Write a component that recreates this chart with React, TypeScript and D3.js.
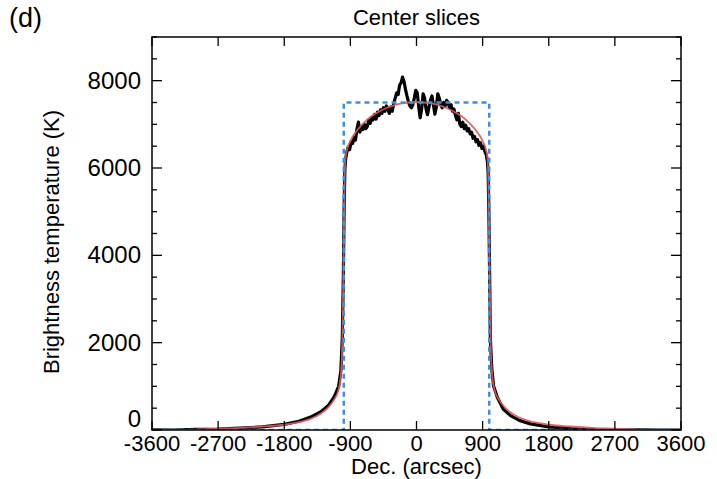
import React from "react";
import * as d3 from "d3";

// observed slice (black), sampled in arcsec
const obsX = [
  -3600, -3300, -3000, -2700, -2400, -2100, -1800, -1600, -1450, -1300, -1200, -1120, -1060, -1030, -1010, -995, -985, -975, -965,
  -950, -930, -910, -890, -870, -850, -830, -810, -790, -770, -750, -730, -710, -690, -670, -650, -630, -610, -590, -570, -550,
  -530, -510, -490, -470, -450, -430, -410, -390, -370, -350, -330, -310, -290, -270, -250, -230, -210, -190, -170, -150, -130,
  -110, -90, -70, -50, -30, -10, 10, 30, 50, 70, 90, 110, 130, 150, 170, 190, 210, 230, 250, 270, 290, 310, 330, 350, 370, 390,
  410, 430, 450, 470, 490, 510, 530, 550, 570, 590, 610, 630, 650, 670, 690, 710, 730, 750, 770, 790, 810, 830, 850, 870, 890,
  910, 930, 950, 965, 975, 985, 995, 1005, 1025, 1050, 1100, 1180, 1280, 1400, 1550, 1800, 2100, 2400, 2700, 3000, 3300, 3600,
];
const obsT = [
  5, 0, 15, 20, 45, 70, 130, 200, 290, 420, 560, 760, 1000, 1350, 2100, 3600, 5100, 5950, 6200,
  6350, 6480, 6420, 6600, 6560, 6700, 6640, 6900, 7050, 6820, 6950, 6880, 7000, 6900, 6950, 7100, 7020, 7160, 7100, 7230, 7120,
  7280, 7200, 7330, 7250, 7380, 7300, 7420, 7350, 7250, 7400, 7300, 7480, 7600, 7720, 7680, 7900, 7950, 8080, 7980, 7800, 7650,
  7520, 7420, 7380, 7450, 7600, 7780, 7720, 7400, 7150, 7350, 7700, 7600, 7350, 7220, 7400, 7550, 7650, 7450, 7230, 7400, 7700,
  7600, 7450, 7380, 7500, 7420, 7550, 7500, 7380, 7450, 7300, 7350, 7200, 7100, 7250, 7000, 6950, 7050, 6900, 6980, 6850, 6900,
  6780, 6820, 6680, 6720, 6600, 6650, 6520, 6580, 6450, 6500, 6380, 6300, 6150, 5900, 5000, 3600, 2100, 1400, 1000, 750, 480,
  330, 220, 140, 70, 30, 10, 0, 5, 0, 0,
];

// model slice (red)
const modelX = [
  -3600, -3000, -2700, -2400, -2100, -1800, -1600, -1450, -1300, -1200, -1120, -1060, -1030, -1010, -995, -985, -975, -965,
  -940, -900, -800, -700, -600, -500, -400, -300, -200, -100, 0, 100, 200, 300, 400, 500, 600, 700, 800, 900, 940, 965, 975,
  985, 995, 1010, 1030, 1060, 1120, 1200, 1300, 1450, 1600, 1800, 2100, 2400, 2700, 3000, 3600,
];
const modelT = [
  0, 10, 30, 50, 80, 120, 180, 250, 380, 520, 700, 930, 1250, 2000, 3500, 5000, 5900, 6250,
  6450, 6620, 6880, 7060, 7200, 7300, 7380, 7440, 7480, 7500, 7510, 7500, 7480, 7440, 7380, 7300, 7200, 7060, 6880, 6620, 6450,
  6250, 5900, 5000, 3500, 2000, 1250, 930, 700, 520, 380, 250, 180, 120, 80, 50, 30, 10, 0,
];

// uniform disk (blue dashed)
const diskX = [-3600, -990, -990, 990, 990, 3600];
const diskT = [0, 0, 7500, 7500, 0, 0];

const xTicks = [-3600, -2700, -1800, -900, 0, 900, 1800, 2700, 3600];
const yTicks = [0, 2000, 4000, 6000, 8000];
const yMinor = d3.range(0, 9001, 500);

const W = 717;
const H = 479;
const left = 152;
const right = 681;
const top = 37;
const bottom = 430;
const font = "'Liberation Sans', Arial, Helvetica, sans-serif";

export default function App() {
  const x = d3.scaleLinear().domain([-3600, 3600]).range([left, right]);
  const y = d3.scaleLinear().domain([0, 9000]).range([bottom, top]);

  const toPath = (xs: number[], ys: number[], curve: d3.CurveFactory) =>
    d3
      .line<number>()
      .x((_, i) => x(xs[i]))
      .y((_, i) => y(ys[i]))
      .curve(curve)(xs) || undefined;

  return (
    <svg
      width={W}
      height={H}
      style={{ position: "absolute", left: 0, top: 0, background: "#fff" }}
      fontFamily={font}
    >
      <rect x={0} y={0} width={W} height={H} fill="#fff" />
      <defs>
        <clipPath id="plot-clip">
          <rect x={left} y={top} width={right - left} height={bottom - top} />
        </clipPath>
      </defs>

      <g clipPath="url(#plot-clip)">
        <path d={toPath(obsX, obsT, d3.curveLinear)} fill="none" stroke="#000" strokeWidth={3.2} strokeLinejoin="round" />
        <path d={toPath(modelX, modelT, d3.curveMonotoneX)} fill="none" stroke="#e0585c" strokeWidth={1.8} strokeOpacity={0.9} />
        <path d={toPath(diskX, diskT, d3.curveLinear)} fill="none" stroke="#3d8fe0" strokeWidth={2.5} strokeDasharray="5,4" />
      </g>

      {/* frame */}
      <rect x={left} y={top} width={right - left} height={bottom - top} fill="none" stroke="#000" strokeWidth={1.5} />

      {/* x ticks, bottom and top */}
      {xTicks.map((t) => (
        <g key={`xt-${t}`}>
          <line x1={x(t)} x2={x(t)} y1={bottom} y2={bottom - 9} stroke="#000" strokeWidth={1.3} />
          <line x1={x(t)} x2={x(t)} y1={top} y2={top + 9} stroke="#000" strokeWidth={1.3} />
          <text x={x(t)} y={bottom + 21} textAnchor="middle" fontSize={22}>
            {t}
          </text>
        </g>
      ))}

      {/* y ticks, left and right */}
      {yMinor.map((t) => {
        const major = t % 2000 === 0;
        const len = major ? 10 : 5;
        return (
          <g key={`yt-${t}`}>
            <line x1={left} x2={left + len} y1={y(t)} y2={y(t)} stroke="#000" strokeWidth={1.3} />
            <line x1={right} x2={right - len} y1={y(t)} y2={y(t)} stroke="#000" strokeWidth={1.3} />
          </g>
        );
      })}
      {yTicks.map((t) => (
        <text key={`yl-${t}`} x={left - 11} y={y(t) + (t === 0 ? -3 : 8)} textAnchor="end" fontSize={24}>
          {t}
        </text>
      ))}

      <text x={(left + right) / 2} y={25} textAnchor="middle" fontSize={22}>
        Center slices
      </text>
      <text x={9} y={27} fontSize={27}>
        (d)
      </text>
      <text x={(left + right) / 2} y={474} textAnchor="middle" fontSize={22}>
        Dec. (arcsec)
      </text>
      <text
        transform={`translate(59, 242) rotate(-90)`}
        textAnchor="middle"
        fontSize={22}
      >
        Brightness temperature (K)
      </text>
    </svg>
  );
}
